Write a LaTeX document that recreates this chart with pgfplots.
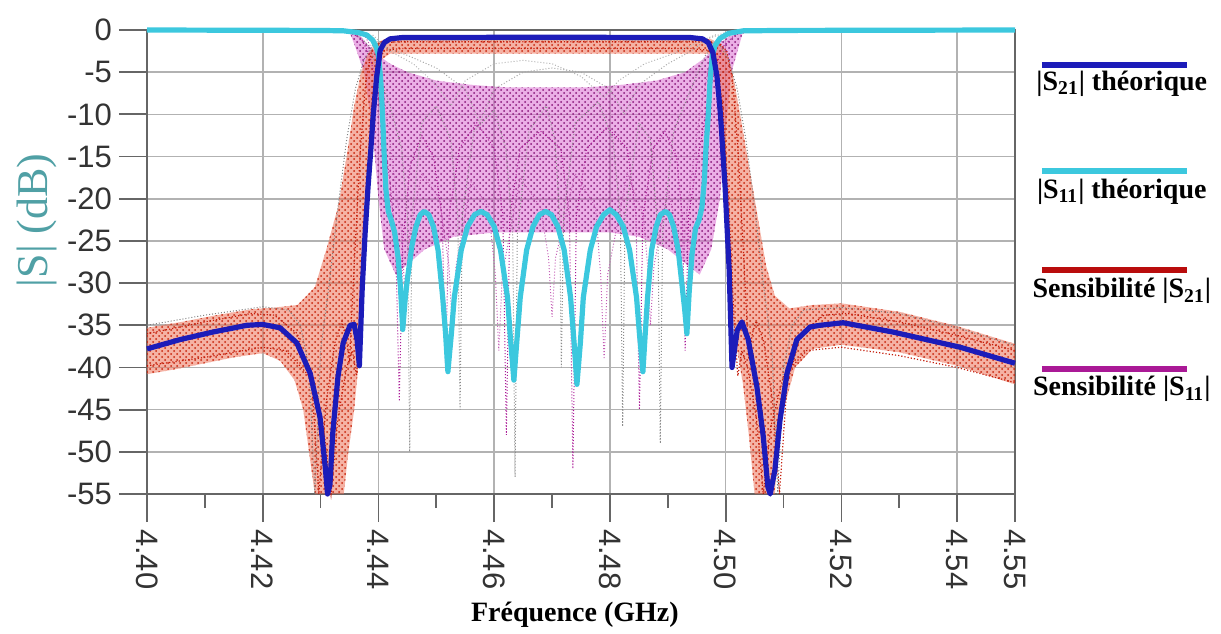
\documentclass[border=0pt]{standalone}
\usepackage{fontspec}
\setmainfont{Liberation Serif}
\newfontfamily\arial{Liberation Sans}
\usepackage{pgfplots}
\pgfplotsset{compat=1.18}
\usepackage{pgfplotstable}
\usetikzlibrary{patterns}

\definecolor{sdeux}{RGB}{28,28,185}
\definecolor{sun}{RGB}{60,200,222}
\definecolor{sensr}{RGB}{185,12,12}
\definecolor{sensm}{RGB}{170,25,150}
\definecolor{cloudr}{RGB}{236,115,90}
\definecolor{cloudm}{RGB}{215,95,205}
\definecolor{ylab}{RGB}{80,160,165}

% envelope of the |S21| Monte Carlo curves
\pgfplotstableread{
f db
4.4000 -35.3
4.4060 -34.6
4.4120 -33.8
4.4180 -33.1
4.4220 -32.9
4.4260 -32.6
4.4290 -30.5
4.4310 -26.0
4.4330 -21.0
4.4345 -15.0
4.4358 -9.0
4.4370 -5.0
4.4382 -2.8
4.4395 -1.6
4.4410 -1.1
4.4440 -1.0
4.4950 -1.0
4.4975 -1.1
4.4990 -1.6
4.5003 -2.8
4.5013 -5.5
4.5025 -10.0
4.5040 -16.0
4.5055 -22.0
4.5070 -28.0
4.5085 -31.5
4.5110 -33.0
4.5150 -32.6
4.5200 -32.4
4.5300 -33.4
4.5400 -35.1
4.5500 -37.2
4.5500 -42.0
4.5400 -39.8
4.5300 -38.2
4.5200 -37.3
4.5150 -37.8
4.5120 -40.0
4.5100 -45.0
4.5090 -50.0
4.5085 -55.0
4.5050 -55.0
4.5040 -48.0
4.5030 -42.0
4.5020 -38.0
4.5012 -34.0
4.5005 -25.0
4.5000 -20.0
4.4992 -10.0
4.4983 -4.5
4.4975 -2.8
4.4960 -2.8
4.4420 -2.8
4.4405 -3.5
4.4397 -6.0
4.4390 -10.0
4.4382 -18.0
4.4375 -28.0
4.4370 -35.0
4.4365 -40.0
4.4358 -45.0
4.4348 -50.0
4.4340 -55.0
4.4290 -55.0
4.4280 -50.0
4.4270 -45.0
4.4255 -41.5
4.4230 -39.2
4.4200 -38.3
4.4150 -38.8
4.4100 -39.5
4.4050 -40.2
4.4000 -40.8
}\redband

% envelope of the |S11| Monte Carlo curves
\pgfplotstableread{
f db
4.4350 -0.2
4.4370 -0.8
4.4385 -2.0
4.4400 -3.0
4.4420 -4.0
4.4450 -5.0
4.4500 -6.0
4.4560 -6.5
4.4620 -6.8
4.4690 -6.8
4.4760 -6.8
4.4820 -6.5
4.4880 -6.0
4.4930 -5.0
4.4960 -3.5
4.4985 -1.8
4.5005 -0.8
4.5030 -0.2
4.5010 -5.0
4.5000 -12.0
4.4990 -20.0
4.4975 -26.0
4.4955 -29.0
4.4900 -26.0
4.4850 -24.5
4.4800 -24.0
4.4700 -24.0
4.4600 -24.0
4.4530 -24.5
4.4480 -26.0
4.4430 -29.0
4.4410 -26.0
4.4400 -20.0
4.4390 -12.0
4.4375 -5.0
4.4360 -2.0
}\magband

\begin{document}
\begin{tikzpicture}
\useasboundingbox (-73.5pt,-69.5pt) rectangle (537pt,247pt);
\begin{axis}[
  scale only axis, width=434pt, height=232pt,
  xmin=4.40, xmax=4.55, ymin=-55, ymax=0,
  clip=false,
  axis line style={draw=black!60, line width=1pt},
  xtick={4.40,4.42,4.44,4.46,4.48,4.50,4.52,4.54,4.55},
  xticklabels={4.40,4.42,4.44,4.46,4.48,4.50,4.52,4.54,4.55},
  minor xtick={4.41,4.43,4.45,4.47,4.49,4.51,4.53},
  ytick={0,-5,-10,-15,-20,-25,-30,-35,-40,-45,-50,-55},
  yticklabels={0,-5,-10,-15,-20,-25,-30,-35,-40,-45,-50,-55},
  tick align=outside,
  major tick length=14pt, minor tick length=7pt,
  tick style={draw=black!60, line width=0.9pt},
  xtick pos=bottom, ytick pos=left,
  xmajorgrids, ymajorgrids,
  major grid style={draw=black!30, line width=0.8pt},
  ticklabel style={font=\arial\fontsize{15.5}{18}\selectfont, text=black!80},
  x tick label style={rotate=-90, anchor=west},
  xlabel={\textbf{Fréquence (GHz)}},
  xlabel style={font=\fontsize{14}{16}\selectfont, at={(axis description cs:0.493,-0.26)}, anchor=center},
  ylabel={|S| (dB)},
  ylabel style={font=\fontsize{22}{24}\selectfont, text=ylab, at={(axis description cs:-0.127,0.59)}, anchor=center},
]
% Monte Carlo clouds
\addplot[fill=cloudm, fill opacity=0.5, draw=none] table {\magband};
\addplot[pattern=crosshatch dots, pattern color=sensm!80!black, draw=none] table {\magband};
\addplot[fill=cloudr, fill opacity=0.55, draw=none] table {\redband};
\addplot[pattern=crosshatch dots, pattern color=sensr!80!orange, draw=none] table {\redband};

% a few individual |S11| samples
\addplot[sensm, densely dotted, line width=0.5pt] coordinates {
(4.4350,-0.3)(4.4370,-1)(4.4385,-3)(4.4395,-6)(4.4405,-10)(4.4412,-14)(4.4420,-18)(4.4430,-26)(4.4436,-44)(4.4442,-25)
(4.4455,-16)(4.4475,-12.5)(4.4495,-15)(4.4510,-22)(4.4516,-40)(4.4522,-22)(4.4540,-14)(4.4570,-11)(4.4600,-14)(4.4615,-22)
(4.4621,-48)(4.4627,-22)(4.4645,-14)(4.4680,-12)(4.4715,-14)(4.4730,-22)(4.4736,-52)(4.4742,-22)(4.4760,-14)(4.4795,-11.5)
(4.4830,-14)(4.4845,-22)(4.4851,-45)(4.4857,-22)(4.4875,-14)(4.4895,-12)(4.4915,-15)(4.4925,-22)(4.4930,-38)(4.4936,-22)
(4.4950,-16)(4.4965,-10)(4.4980,-5)(4.4995,-2)(4.5015,-0.6)(4.5040,-0.2)};
\addplot[black!45, densely dotted, line width=0.5pt] coordinates {
(4.4360,-0.3)(4.4385,-2)(4.4400,-5)(4.4420,-9)(4.4440,-14)(4.4450,-22)(4.4454,-50)(4.4458,-22)(4.4475,-11)(4.4500,-9)
(4.4525,-13)(4.4537,-22)(4.4541,-45)(4.4545,-22)(4.4565,-12)(4.4600,-9.5)(4.4620,-14)(4.4632,-24)(4.4636,-53)(4.4640,-24)
(4.4660,-12)(4.4690,-9)(4.4705,-13)(4.4713,-22)(4.4716,-40)(4.4720,-22)(4.4740,-11)(4.4780,-8.5)(4.4805,-13)(4.4818,-22)
(4.4822,-47)(4.4826,-22)(4.4850,-11)(4.4870,-13)(4.4883,-24)(4.4887,-49)(4.4891,-24)(4.4910,-12)(4.4940,-7)(4.4965,-3)
(4.4990,-1)(4.5020,-0.3)};
\addplot[sensm!70, densely dotted, line width=0.5pt] coordinates {
(4.4375,-0.5)(4.4395,-3)(4.4410,-8)(4.4425,-16)(4.4440,-24)(4.4447,-33)(4.4454,-24)(4.4475,-17)(4.4505,-20)(4.4522,-28)
(4.4528,-36)(4.4534,-28)(4.4560,-18)(4.4590,-21)(4.4602,-29)(4.4608,-38)(4.4614,-29)(4.4645,-17.5)(4.4680,-21)(4.4694,-27)
(4.4700,-34)(4.4706,-27)(4.4740,-17)(4.4775,-21)(4.4784,-29)(4.4790,-39)(4.4796,-29)(4.4830,-17)(4.4858,-22)(4.4865,-28)
(4.4870,-35)(4.4876,-28)(4.4900,-19)(4.4918,-24)(4.4925,-30)(4.4932,-22)(4.4955,-10)(4.4975,-3)(4.5000,-0.6)};
\addplot[black!35, densely dotted, line width=0.5pt] coordinates {
(4.4380,-0.5)(4.4410,-2)(4.4450,-3)(4.4500,-4.5)(4.4550,-7)(4.4575,-11)(4.4600,-7)(4.4650,-5)(4.4700,-4.5)(4.4750,-5)
(4.4800,-7)(4.4825,-10)(4.4850,-6.5)(4.4900,-4)(4.4940,-2.5)(4.4970,-1)(4.5000,-0.3)};
\addplot[black!30, densely dotted, line width=0.5pt] coordinates {
(4.4390,-0.6)(4.4420,-2.5)(4.4460,-4)(4.4500,-6.5)(4.4525,-9)(4.4550,-6)(4.4600,-4)(4.4650,-3.6)(4.4700,-4)(4.4750,-5.5)
(4.4790,-8)(4.4815,-6)(4.4860,-4)(4.4910,-2.8)(4.4950,-1.5)(4.4985,-0.5)};

% a few individual |S21| samples
\addplot[sensr!85!orange, densely dotted, line width=0.6pt] coordinates {
(4.400,-36.0)(4.410,-34.6)(4.418,-33.6)(4.422,-33.8)(4.426,-36)(4.4285,-42)(4.4297,-55)(4.4310,-44)(4.4325,-37)(4.4337,-34.5)
(4.4345,-37)(4.4350,-39)(4.4358,-28)(4.4368,-15)(4.4378,-6)(4.4388,-2.5)(4.4400,-1.6)(4.4430,-1.4)(4.4960,-1.4)(4.4990,-1.6)
(4.5002,-2.5)(4.5012,-6)(4.5022,-15)(4.5032,-28)(4.5040,-39)(4.5046,-36)(4.5053,-34.5)(4.5066,-37)(4.5081,-44)(4.5093,-55)
(4.5106,-42)(4.5130,-36)(4.5170,-33.8)(4.5210,-33.6)(4.5300,-34.6)(4.5400,-36.2)(4.5500,-38.0)};
\addplot[sensr!85!orange, densely dotted, line width=0.6pt] coordinates {
(4.400,-39.8)(4.410,-38.8)(4.420,-37.6)(4.424,-38)(4.428,-41)(4.4305,-47)(4.4318,-55)(4.4330,-46)(4.4345,-40)(4.4355,-38)
(4.4362,-41)(4.4368,-35)(4.4378,-20)(4.4388,-9)(4.4398,-4)(4.4410,-2.4)(4.4440,-2.2)(4.4940,-2.2)(4.4970,-2.4)(4.4985,-4)
(4.4995,-9)(4.5005,-20)(4.5015,-35)(4.5021,-41)(4.5028,-38)(4.5038,-40)(4.5053,-46)(4.5065,-55)(4.5078,-47)(4.5100,-41)
(4.5140,-38)(4.5200,-37.6)(4.5300,-38.6)(4.5400,-40.0)(4.5500,-41.8)};
\addplot[black!50, densely dotted, line width=0.5pt] coordinates {
(4.400,-35.0)(4.410,-33.8)(4.420,-32.8)(4.4245,-33.2)(4.4265,-35)(4.4280,-40)(4.4290,-55)(4.4300,-38)(4.4315,-30)(4.4330,-21)
(4.4345,-13)(4.4360,-7)(4.4375,-3.5)(4.4390,-1.8)(4.4420,-1.2)(4.4960,-1.2)(4.4990,-1.8)(4.5005,-3.5)(4.5020,-7)(4.5035,-13)
(4.5050,-21)(4.5065,-30)(4.5080,-38)(4.5090,-55)(4.5100,-40)(4.5115,-35)(4.5135,-33.2)(4.5200,-32.9)(4.5300,-33.6)(4.5400,-35.3)
(4.5500,-37.4)};

% theoretical |S11|
\addplot[sun, line width=2.6pt, line join=round] coordinates {
(4.4000,0)(4.4300,-0.05)(4.4340,-0.1)(4.4365,-0.3)(4.4380,-0.6)(4.4390,-1.2)(4.4396,-2)(4.4400,-3)(4.4404,-6)(4.4407,-10)
(4.4410,-15)(4.4413,-19)(4.4417,-21.5)(4.4422,-22.5)(4.4428,-24)(4.4434,-27)(4.4438,-30.5)(4.4442,-35.5)
(4.4446,-32)(4.4450,-29.5)(4.4458,-25.5)(4.4465,-23.3)(4.4472,-21.9)(4.4479,-21.5)(4.4487,-21.9)(4.4495,-23.3)(4.4503,-26.1)
(4.4511,-31.7)(4.4516,-36)(4.4520,-40.5)
(4.4526,-36)(4.4531,-31.7)(4.4543,-26.1)(4.4554,-23.3)(4.4566,-21.9)(4.4577,-21.5)(4.4588,-21.9)(4.4600,-23.3)(4.4611,-26.1)
(4.4623,-31.7)(4.4628,-36.5)(4.4634,-41.5)
(4.4639,-37)(4.4645,-31.7)(4.4656,-26.1)(4.4667,-23.3)(4.4678,-21.9)(4.4689,-21.5)(4.4699,-21.9)(4.4710,-23.3)(4.4721,-26.1)
(4.4732,-31.7)(4.4738,-37)(4.4743,-42)
(4.4749,-37)(4.4754,-31.7)(4.4766,-26.1)(4.4777,-23.3)(4.4789,-21.9)(4.4800,-21.3)(4.4811,-21.9)(4.4823,-23.3)(4.4834,-26.1)
(4.4846,-31.7)(4.4851,-36)(4.4857,-40.5)
(4.4861,-36)(4.4865,-31.7)(4.4872,-26.1)(4.4880,-23.3)(4.4887,-21.9)(4.4896,-21.5)(4.4903,-21.9)(4.4910,-23.3)(4.4918,-26.1)
(4.4925,-30.5)(4.4929,-33)(4.4933,-36)
(4.4937,-31)(4.4942,-26.5)(4.4948,-23.5)(4.4954,-22.5)(4.4959,-21)(4.4963,-18)(4.4966,-14)(4.4970,-10)(4.4973,-6)(4.4977,-3)
(4.4982,-1.8)(4.4990,-1)(4.5005,-0.4)(4.5030,-0.1)(4.5100,-0.05)(4.5500,0)};

% theoretical |S21|
\addplot[sdeux, line width=2.6pt, line join=round] coordinates {
(4.4000,-37.8)(4.4057,-36.7)(4.4114,-35.8)(4.4173,-35.0)(4.4200,-34.9)(4.4230,-35.3)(4.4259,-37.1)(4.4282,-40.7)(4.4299,-45.9)
(4.4308,-51.8)(4.4312,-55)(4.4316,-54)(4.4321,-47.8)(4.4330,-41.1)(4.4339,-37.1)(4.4351,-35.0)(4.4358,-34.9)(4.4363,-36.7)
(4.4367,-39.8)(4.4372,-30.5)(4.4377,-24)(4.4382,-18.6)(4.4387,-14)(4.4391,-10)(4.4397,-5.5)(4.4403,-2.4)(4.4410,-1.5)
(4.4420,-1.05)(4.4440,-0.9)(4.4690,-0.85)(4.4940,-0.9)(4.4960,-1.05)(4.4970,-1.5)(4.4978,-2.7)(4.4985,-5.5)(4.4991,-10)
(4.4999,-18.6)(4.5006,-28.4)(4.5011,-40)(4.5016,-37.5)(4.5020,-35.6)(4.5028,-34.6)(4.5039,-36.7)(4.5054,-42.3)(4.5065,-48.2)
(4.5073,-54.2)(4.5077,-55)(4.5085,-52.2)(4.5094,-46.2)(4.5106,-40.7)(4.5123,-36.7)(4.5146,-35.2)(4.5163,-35.0)(4.5203,-34.7)
(4.5289,-35.8)(4.5405,-37.6)(4.5500,-39.5)};

% legend, line above each label
\draw[sdeux, line width=3pt] (axis description cs:1.031,0.925) -- (axis description cs:1.198,0.925);
\node[font=\fontsize{14}{16}\selectfont\bfseries] at (axis description cs:1.123,0.884) {|S\textsubscript{21}| théorique};
\draw[sun, line width=3pt] (axis description cs:1.031,0.696) -- (axis description cs:1.198,0.696);
\node[font=\fontsize{14}{16}\selectfont\bfseries] at (axis description cs:1.123,0.651) {|S\textsubscript{11}| théorique};
\draw[sensr, line width=3pt] (axis description cs:1.031,0.483) -- (axis description cs:1.198,0.483);
\node[font=\fontsize{14}{16}\selectfont\bfseries] at (axis description cs:1.123,0.4375) {Sensibilité |S\textsubscript{21}|};
\draw[sensm, line width=3pt] (axis description cs:1.031,0.269) -- (axis description cs:1.198,0.269);
\node[font=\fontsize{14}{16}\selectfont\bfseries] at (axis description cs:1.123,0.226) {Sensibilité |S\textsubscript{11}|};
\end{axis}
\end{tikzpicture}
\end{document}
